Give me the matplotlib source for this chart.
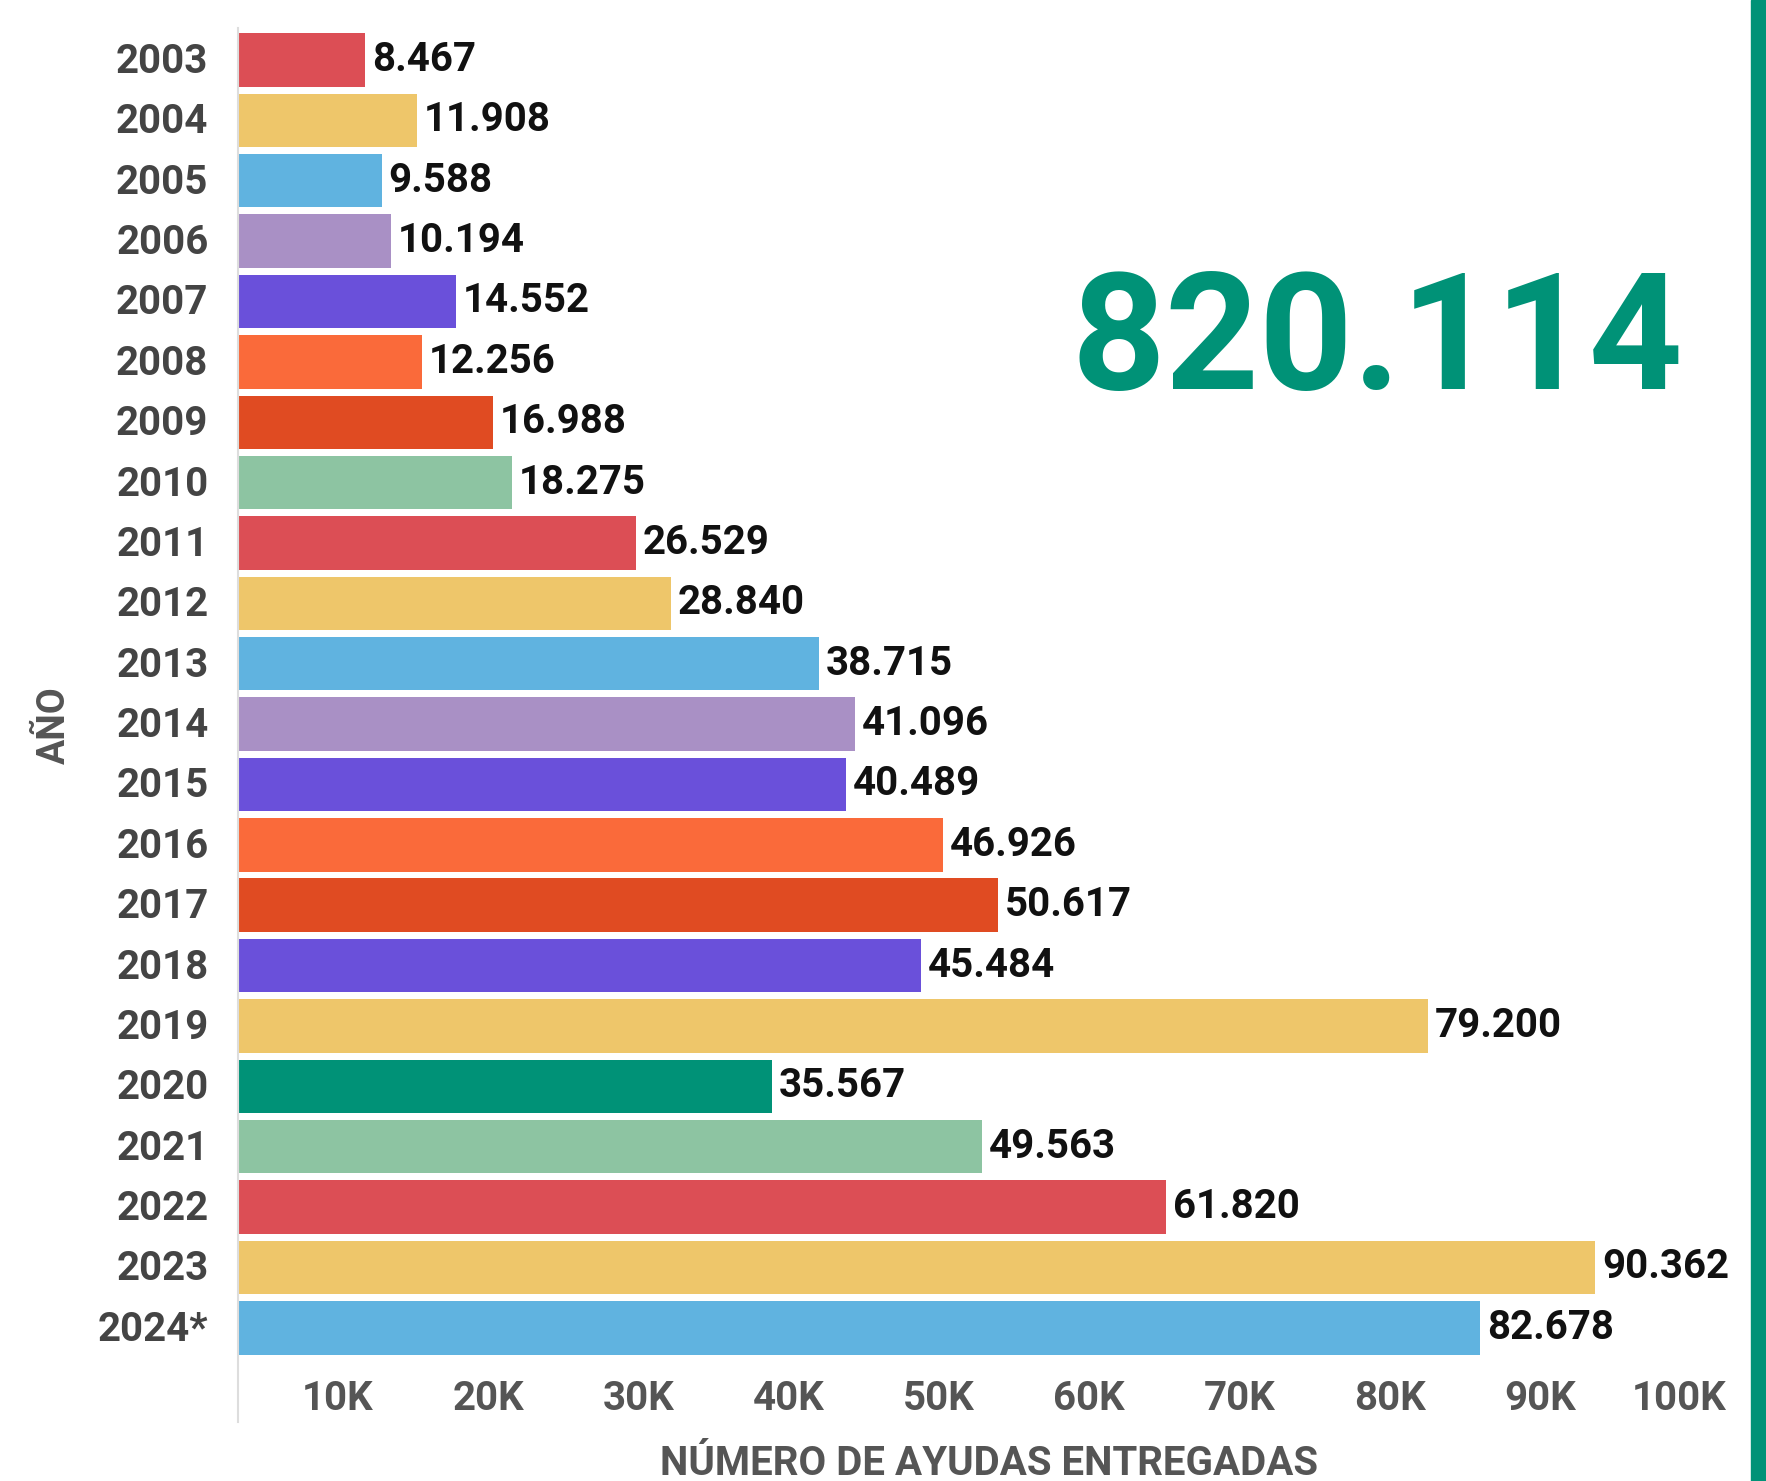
import matplotlib
matplotlib.use("Agg")
from matplotlib import pyplot as plt
from matplotlib.transforms import ScaledTranslation

years = ["2003", "2004", "2005", "2006", "2007", "2008", "2009", "2010", "2011",
         "2012", "2013", "2014", "2015", "2016", "2017", "2018", "2019", "2020",
         "2021", "2022", "2023", "2024*"]
ayudas = [8467, 11908, 9588, 10194, 14552, 12256, 16988, 18275, 26529, 28840,
          38715, 41096, 40489, 46926, 50617, 45484, 79200, 35567, 49563, 61820,
          90362, 82678]
total = "820.114"
xticks = [10000, 20000, 30000, 40000, 50000, 60000, 70000, 80000, 90000, 100000]
xtick_labels = ["10K", "20K", "30K", "40K", "50K", "60K", "70K", "80K", "90K", "100K"]

red = "#DC4E55"
yellow = "#EEC66A"
blue = "#60B3E0"
lavender = "#A990C5"
purple = "#6A50DA"
orange = "#FA6A3A"
dark_orange = "#E04B22"
light_green = "#8DC4A2"
teal = "#009277"
colors = [red, yellow, blue, lavender, purple, orange, dark_orange, light_green,
          red, yellow, blue, lavender, purple, orange, dark_orange, purple,
          yellow, teal, light_green, red, yellow, blue]

plt.rcParams['font.family'] = ['Roboto', 'DejaVu Sans']

W, H = 1766, 1481
fig = plt.figure(figsize=(W / 100, H / 100), dpi=100)
left, right = 237.6 / W, 1740 / W
bottom, top = 1 - 1422 / H, 1 - 28 / H
ax = fig.add_axes([left, bottom, right - left, top - bottom])

pos = list(range(len(years)))
bars = ax.barh(pos, ayudas, height=0.885, color=colors)
ax.set_xlim(0, 100000)
ax.set_ylim(len(years) - 1 + 1.56, -0.53)

labels = [f"{v:,}".replace(",", ".") for v in ayudas]
ax.bar_label(bars, labels=labels, padding=5, fontsize=29, fontweight='bold', color='#111111')

ax.set_yticks(pos)
ax.set_yticklabels(years, fontsize=29, fontweight='bold', color='#444444')
ax.tick_params(axis='y', length=0, pad=21)
ylift = ScaledTranslation(0, 2 / 100, fig.dpi_scale_trans)
for lab in ax.get_yticklabels():
    lab.set_transform(lab.get_transform() + ylift)

ax.set_xticks(xticks)
ax.set_xticklabels(xtick_labels, fontsize=29, fontweight='bold', color='#555555', ha='right')
ax.tick_params(axis='x', length=0, pad=-30)
shift = ScaledTranslation(-14 / 100, 0, fig.dpi_scale_trans)
for lab in ax.get_xticklabels():
    lab.set_transform(lab.get_transform() + shift)

for s in ['top', 'right', 'bottom']:
    ax.spines[s].set_visible(False)
ax.spines['left'].set_color('#dddddd')
ax.spines['left'].set_linewidth(1.5)

ax.set_xlabel("NÚMERO DE AYUDAS ENTREGADAS", fontsize=29, fontweight='bold', color='#555555')
ax.xaxis.set_label_coords(0.5, (1 - 1464 / H - bottom) / (top - bottom))
ax.xaxis.label.set_va('center')
ax.set_ylabel("AÑO", fontsize=27, fontweight='bold', color='#555555')
ax.yaxis.set_label_coords((54 - 237.6) / (1740 - 237.6), 0.5)
ax.yaxis.label.set_va('center')

fig.text(1377 / W, 1 - 344 / H, total, fontsize=118, fontweight='bold', color=teal,
         ha='center', va='center')
fig.patches.append(plt.Rectangle((1751 / W, 0), 15 / W, 1, transform=fig.transFigure,
                                 color=teal, zorder=5))

fig.savefig("out.png", dpi=100)
